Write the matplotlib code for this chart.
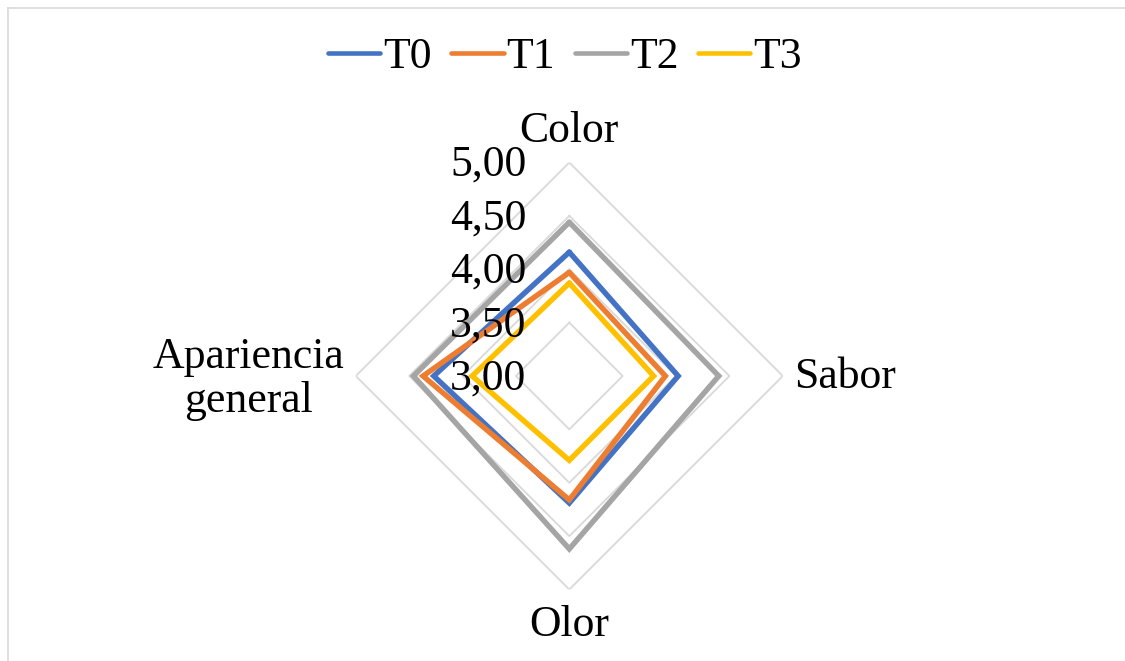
import numpy as np
import matplotlib
matplotlib.use("Agg")
import matplotlib.pyplot as plt
from matplotlib.lines import Line2D

plt.rcParams["font.family"] = ["Liberation Serif", "DejaVu Serif"]

# ----------------------------
# Data
# ----------------------------

categories = ["Color", "Sabor", "Olor", "Apariencia\ngeneral"]
series_names = ["T0", "T1", "T2", "T3"]

t0 = [4.16, 4.02, 4.19, 4.27]
t1 = [3.97, 3.90, 4.16, 4.37]
t2 = [4.44, 4.40, 4.62, 4.46]
t3 = [3.87, 3.79, 3.79, 3.91]

ticks = [3.0, 3.5, 4.0, 4.5, 5.0]
tick_labels = ["3,00", "3,50", "4,00", "4,50", "5,00"]

colors = ["#4472C4", "#ED7D31", "#A5A5A5", "#FFC000"]
grid_color = "#D9D9D9"
fs = 31.5

# ----------------------------
# Figure
# ----------------------------

W, H = 1125, 661
fig = plt.figure(figsize=(W / 100, H / 100), dpi=100)

cx, cy, R = 569.3, 376.0, 213.5
ax = fig.add_axes([(cx - R) / W, (H - cy - R) / H, 2 * R / W, 2 * R / H],
                  projection="polar")
ax.set_theta_zero_location("N")
ax.set_theta_direction(-1)
ax.set_rlim(3, 5)
ax.grid(False)
ax.spines["polar"].set_visible(False)
ax.set_xticks([])
ax.set_yticks([])
ax.patch.set_alpha(0)

angles = np.linspace(0, 2 * np.pi, len(categories), endpoint=False)
closed = np.append(angles, angles[0])

# diamond gridlines
for level in ticks[1:]:
    ax.plot(closed, [level] * len(closed), color=grid_color, lw=1.3, zorder=1)

# series
for name, vals, c in zip(series_names, [t0, t1, t2, t3], colors):
    ax.plot(closed, vals + vals[:1], color=c, lw=3.9, label=name,
            solid_joinstyle="miter", solid_capstyle="round", zorder=3)

# value labels along the top axis
for val, lab in zip(ticks, tick_labels):
    ax.annotate(lab, xy=(0, val), xytext=(-43, -13.5), textcoords="offset pixels",
                ha="right", va="baseline", fontsize=fs, zorder=5)

# category labels
ax.annotate(categories[0], xy=(angles[0], 5), xytext=(0, 21),
            textcoords="offset pixels", ha="center", va="baseline", fontsize=fs)
ax.annotate(categories[1], xy=(angles[1], 5), xytext=(11, -12.5),
            textcoords="offset pixels", ha="left", va="baseline", fontsize=fs)
ax.annotate(categories[2], xy=(angles[2], 5), xytext=(0, -47),
            textcoords="offset pixels", ha="center", va="baseline", fontsize=fs)
ax.annotate(categories[3], xy=(angles[3], 5), xytext=(-11, -3),
            textcoords="offset pixels", ha="right", va="center",
            multialignment="center", linespacing=1.12, fontsize=fs)

# legend
handles = [Line2D([], [], color=c, lw=3.3, solid_capstyle="round") for c in colors]
fig.legend(handles, series_names, loc="center", bbox_to_anchor=(0.502, 1 - 57 / H),
           ncol=4, frameon=False, fontsize=fs, handlelength=1.2,
           handletextpad=0.06, columnspacing=0.45)

# chart border (top and left edges)
fig.add_artist(Line2D([7.5 / W, 1], [1 - 7.5 / H] * 2, color=grid_color, lw=1.2,
                      transform=fig.transFigure))
fig.add_artist(Line2D([7.5 / W] * 2, [0, 1 - 7.5 / H], color=grid_color, lw=1.2,
                      transform=fig.transFigure))

fig.savefig("out.png", dpi=100)
